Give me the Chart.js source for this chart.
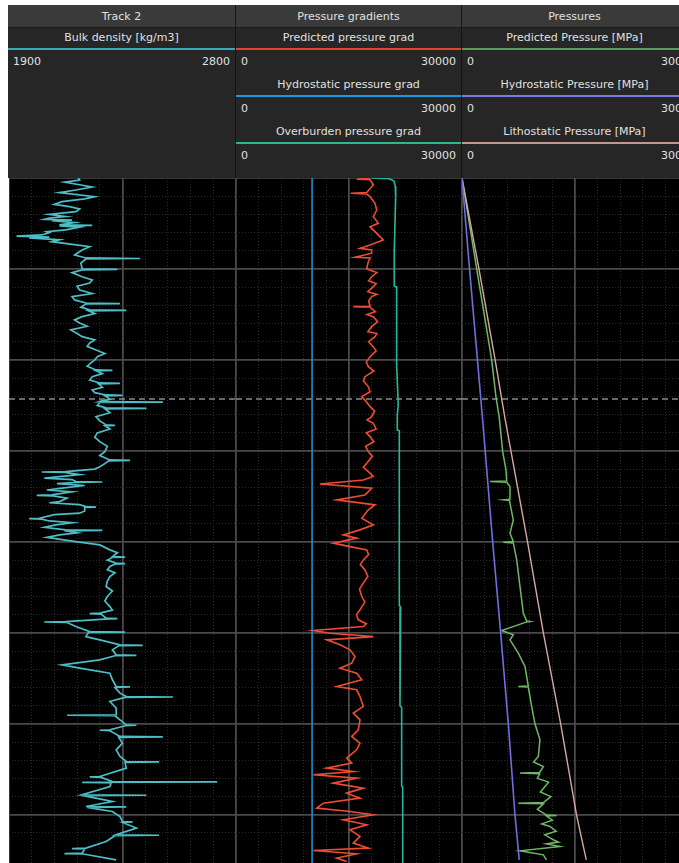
<!DOCTYPE html>
<html>
<head>
<meta charset="utf-8">
<script src="https://cdn.jsdelivr.net/npm/chart.js@4.4.0/dist/chart.umd.min.js"></script>
<style>
html, body { margin: 0; padding: 0; background: #fff; width: 679px; height: 863px; overflow: hidden; }
#wrap { position: relative; width: 679px; height: 863px; overflow: hidden; }
.hdr { position: absolute; top: 5px; height: 173px; background: #262626; font-family: "DejaVu Sans", sans-serif; font-size: 11px; color: #e0e0e0; box-sizing: border-box; border-right: 1px solid #151515; }
.ttl { height: 23px; line-height: 23px; background: #3a3a3a; text-align: center; border-bottom: 1px solid #1c1c1c; box-sizing: border-box; }
.lbl { height: 20px; line-height: 20px; text-align: center; }
.bar { height: 2px; }
.vals { height: 25px; line-height: 24px; position: relative; }
.vals .lo { position: absolute; left: 5px; }
.vals .hi { position: absolute; right: 5px; }
canvas { position: absolute; top: 178px; background: #000; }
</style>
</head>
<body>
<div id="wrap">
<canvas id="track1" width="227" height="685" style="left:9px;width:227px;height:685px"></canvas>
<canvas id="track2" width="226" height="685" style="left:236px;width:226px;height:685px"></canvas>
<canvas id="track3" width="226" height="685" style="left:462px;width:226px;height:685px"></canvas>
</div>
<script>
// header text
const trackTitles = ["Track 2", "Pressure gradients", "Pressures"];
const curveNames = [
	["Bulk density [kg/m3]"],
	["Predicted pressure grad", "Hydrostatic pressure grad", "Overburden pressure grad"],
	["Predicted Pressure [MPa]", "Hydrostatic Pressure [MPa]", "Lithostatic Pressure [MPa]"]
];
const trackRanges = [[1900, 2800], [0, 30000], [0, 300]];

const depthMax = 7530;
const cursorDepth = 2430;

// [depth m, kg/m3]
const bulkDensity = [
[0,2175],[22,2180],[45,2120],[77,2185],[100,2230],[132,2165],[160,2100],[205,2240],[230,2200],[260,2110],[290,2080],[315,2140],[340,2180],[370,2165],[400,2060],[425,2125],[440,2060],[455,2040],[462,2150],[470,2070],[490,2160],[516,2100],[520,2230],[526,2100],[540,2180],[571,2125],[590,2050],[600,2060],[626,2030],[640,1930],[650,2060],[659,1980],[680,2100],[700,2070],[755,2220],[791,2190],[846,2160],[879,2205],[885,2420],[890,2205],[934,2185],[1000,2190],[1005,2330],[1010,2190],[1040,2150],[1085,2190],[1120,2230],[1154,2220],[1190,2170],[1231,2180],[1270,2230],[1304,2150],[1340,2160],[1374,2205],[1380,2340],[1385,2205],[1420,2185],[1450,2220],[1455,2365],[1460,2215],[1490,2240],[1524,2190],[1560,2160],[1593,2180],[1630,2210],[1670,2145],[1710,2170],[1744,2190],[1780,2240],[1813,2220],[1850,2210],[1890,2245],[1930,2280],[1964,2250],[2000,2240],[2033,2225],[2070,2210],[2110,2245],[2115,2310],[2120,2245],[2150,2270],[2184,2230],[2220,2220],[2253,2260],[2258,2340],[2263,2255],[2300,2270],[2330,2230],[2360,2240],[2385,2285],[2390,2350],[2395,2280],[2430,2300],[2458,2260],[2463,2510],[2468,2260],[2500,2250],[2527,2285],[2532,2445],[2537,2280],[2580,2300],[2623,2245],[2670,2260],[2714,2285],[2719,2320],[2724,2280],[2760,2300],[2802,2250],[2850,2240],[2898,2260],[2950,2290],[3008,2280],[3050,2260],[3099,2300],[3104,2380],[3109,2295],[3140,2280],[3173,2260],[3200,2240],[3227,2125],[3232,2030],[3237,2120],[3260,2180],[3282,2100],[3300,2040],[3315,2150],[3337,2165],[3342,2270],[3347,2160],[3360,2090],[3380,2200],[3410,2110],[3430,2050],[3450,2150],[3484,2070],[3489,2010],[3494,2075],[3520,2130],[3557,2100],[3570,2060],[3590,2180],[3612,2205],[3617,2245],[3622,2200],[3660,2200],[3685,2180],[3700,2080],[3740,2020],[3745,1980],[3750,2030],[3770,2060],[3790,2150],[3813,2085],[3840,2040],[3868,2125],[3873,2270],[3878,2120],[3900,2170],[3923,2100],[3950,2050],[3997,2165],[4033,2260],[4088,2300],[4120,2330],[4162,2310],[4167,2360],[4172,2310],[4200,2290],[4234,2325],[4239,2360],[4244,2320],[4270,2300],[4308,2290],[4340,2320],[4381,2300],[4430,2290],[4491,2285],[4540,2310],[4601,2290],[4650,2280],[4711,2300],[4750,2310],[4784,2260],[4789,2220],[4794,2265],[4839,2285],[4844,2330],[4849,2280],[4876,2125],[4881,2040],[4886,2130],[4931,2165],[4986,2220],[4991,2360],[4996,2215],[5041,2205],[5077,2260],[5132,2340],[5137,2430],[5142,2335],[5187,2310],[5242,2325],[5247,2405],[5252,2320],[5297,2260],[5352,2110],[5388,2180],[5443,2300],[5516,2310],[5590,2325],[5595,2380],[5600,2320],[5663,2340],[5700,2365],[5705,2550],[5710,2360],[5755,2300],[5828,2325],[5901,2325],[5906,2130],[5911,2320],[5956,2340],[6011,2365],[6016,2405],[6021,2360],[6066,2300],[6071,2260],[6076,2300],[6139,2340],[6144,2510],[6149,2335],[6212,2350],[6286,2325],[6359,2340],[6414,2365],[6419,2495],[6424,2360],[6487,2365],[6579,2260],[6584,2220],[6589,2265],[6634,2310],[6639,2725],[6644,2190],[6649,2305],[6689,2300],[6780,2190],[6785,2445],[6790,2195],[6854,2310],[6909,2205],[6914,2365],[6919,2210],[6964,2310],[7019,2340],[7074,2350],[7079,2390],[7084,2350],[7146,2405],[7220,2325],[7225,2495],[7230,2320],[7293,2285],[7366,2205],[7371,2150],[7376,2200],[7421,2190],[7426,2120],[7431,2195],[7495,2325]
];

// [depth m, Pa/m]
const predictedGrad = [
[0,17800],[14,16020],[20,17800],[77,18230],[160,17350],[168,15230],[176,17350],[205,17790],[278,18450],[352,18680],[425,18230],[498,18890],[535,17790],[608,18680],[681,19550],[736,17790],[773,16460],[790,18000],[827,18010],[871,15800],[880,17800],[920,17560],[1000,17350],[1040,18700],[1085,18010],[1130,17600],[1160,18600],[1195,18230],[1250,17500],[1280,18700],[1304,18010],[1350,17600],[1410,17790],[1414,15570],[1420,17790],[1470,18500],[1500,17400],[1524,18230],[1580,18800],[1634,18010],[1690,17500],[1710,18700],[1744,18450],[1800,17600],[1854,18230],[1900,18600],[1964,17790],[2020,17300],[2074,17560],[2120,18300],[2184,17120],[2230,16900],[2293,17560],[2350,17800],[2403,16690],[2450,17200],[2513,17790],[2560,18400],[2623,18010],[2660,17400],[2696,18230],[2760,18600],[2800,17300],[2843,17790],[2900,18300],[2950,17200],[3008,17560],[3060,18100],[3135,17350],[3180,16900],[3245,17790],[3280,18200],[3319,16900],[3363,11150],[3410,18010],[3484,17120],[3538,13370],[3593,18450],[3648,17560],[3740,16690],[3813,18230],[3868,16460],[3923,14240],[3959,16020],[4014,12920],[4052,15130],[4088,17350],[4140,17600],[4198,16900],[4250,16500],[4308,17120],[4380,17500],[4454,16900],[4520,16400],[4601,16690],[4660,17100],[4747,16460],[4800,16000],[4857,16230],[4900,17300],[4931,16900],[4975,10260],[5004,12480],[5041,18230],[5077,12040],[5132,13800],[5187,15130],[5260,15800],[5333,15360],[5388,13800],[5443,16020],[5516,16690],[5590,13370],[5626,16020],[5700,16460],[5810,16900],[5883,15570],[5956,16460],[6066,16230],[6139,15360],[6212,16460],[6286,16020],[6377,14690],[6432,15360],[6487,12040],[6524,15570],[6560,10260],[6597,16020],[6652,12920],[6707,16900],[6762,14690],[6817,16460],[6872,11590],[6927,10710],[6964,15130],[7000,18230],[7055,14240],[7110,17350],[7165,15130],[7238,16460],[7311,15570],[7366,17560],[7392,10260],[7429,16020],[7476,13370],[7513,14690]
];
const hydrostaticGrad = [[0,10100],[7530,10100]];
const overburdenGrad = [
[0,18000],[8,20300],[30,20950],[90,21150],[200,21200],[800,21010],[1190,21010],[1200,21330],[2070,21330],[2500,21540],[2600,21410],[2770,21410],[2780,21680],[4700,21680],[4720,21860],[5000,21770],[5800,21770],[5820,21990],[6680,21990],[6700,22130],[7530,22130]
];

// [depth m, MPa]
const predictedPres = [
[0,0],[278,5.5],[1000,19.5],[2000,39.4],[2400,45],[2637,49.5],[3008,54],[3209,58.4],[3330,59.3],[3337,37.2],[3345,59.3],[3392,63.7],[3530,63.7],[3538,54.8],[3546,63],[3758,68.1],[3905,63.7],[3995,68],[4003,54.8],[4011,68.1],[4198,72.6],[4491,77],[4784,81.4],[4870,85.9],[4876,90.3],[4882,85],[4975,52.7],[5022,68.1],[5077,63.7],[5223,74.7],[5370,83.6],[5585,88],[5590,74.7],[5596,88],[5810,92.5],[6003,96.9],[6176,103.5],[6359,101.3],[6420,95],[6470,108],[6535,103],[6542,77],[6550,103],[6600,100],[6640,115],[6689,110.2],[6750,104],[6800,118],[6865,108],[6872,74.7],[6880,108],[6940,100],[7003,112.4],[7008,125.7],[7013,112],[7060,120],[7100,106],[7128,116.8],[7180,125],[7220,110],[7275,121.2],[7300,128],[7320,112],[7348,130],[7396,77],[7440,108],[7495,112]
];
const hydrostaticPres = [[0,0],[1000,10],[2000,20.5],[2660,27.4],[4000,40.7],[5000,51.3],[6000,61.5],[7000,70.3],[7495,76]];
const lithostaticPres = [[0,0],[1000,22.5],[2000,44],[2640,57],[4000,87],[5000,108],[6000,131],[7000,152],[7495,165]];

const curveColors = [
	["#3aa9b4"],
	["#e8432f", "#1b9ae0", "#2ab894"],
	["#5a9a5a", "#7b7be0", "#c09890"]
];

// header
const wrap = document.getElementById("wrap");
const hdrLeft = [8, 236, 462];
const hdrWidth = [228, 226, 226];
trackTitles.forEach((title, t) => {
	const h = document.createElement("div");
	h.className = "hdr";
	h.style.left = hdrLeft[t] + "px";
	h.style.width = hdrWidth[t] + "px";
	let html = `<div class="ttl">${title}</div>`;
	curveNames[t].forEach((name, c) => {
		html += `<div class="lbl">${name}</div>`;
		html += `<div class="bar" style="background:${curveColors[t][c]}"></div>`;
		html += `<div class="vals"><span class="lo">${trackRanges[t][0]}</span><span class="hi">${trackRanges[t][1]}</span></div>`;
	});
	h.innerHTML = html;
	wrap.appendChild(h);
});

const toXY = pairs => pairs.map(([d, v]) => ({ x: v, y: d }));

function curve(pairs, color, width) {
	return {
		data: toXY(pairs),
		borderColor: color,
		borderWidth: width || 1.3,
		pointRadius: 0,
		showLine: true,
		tension: 0
	};
}

function makeTrack(id, xMin, xMax, datasets) {
	const step = (xMax - xMin) / 10;
	const isMajorX = v => Math.round((v - xMin) / step) % 5 === 0;
	datasets.push({
		data: [{ x: xMin, y: cursorDepth }, { x: xMax, y: cursorDepth }],
		borderColor: "#8a8a8a",
		borderWidth: 1.5,
		borderDash: [6, 4],
		pointRadius: 0,
		showLine: true
	});
	new Chart(document.getElementById(id), {
		type: "scatter",
		data: { datasets: datasets },
		options: {
			responsive: false,
			animation: false,
			layout: { padding: 0 },
			plugins: { legend: { display: false }, tooltip: { enabled: false } },
			scales: {
				x: {
					type: "linear",
					min: xMin,
					max: xMax,
					ticks: { display: false, stepSize: step },
					grid: {
						drawTicks: false,
						color: ctx => isMajorX(ctx.tick.value) ? "#4a4a4a" : "#2c2c2c",
						lineWidth: ctx => isMajorX(ctx.tick.value) ? 1.8 : 1
					},
					border: {
						display: false,
						dash: ctx => (ctx.tick && !isMajorX(ctx.tick.value)) ? [1, 2] : []
					}
				},
				y: {
					type: "linear",
					reverse: true,
					min: 0,
					max: depthMax,
					ticks: { display: false, stepSize: 200 },
					grid: {
						drawTicks: false,
						color: ctx => ctx.tick.value % 1000 === 0 ? "#4a4a4a" : (ctx.tick.value % 200 === 0 ? "#2c2c2c" : "rgba(0,0,0,0)"),
						lineWidth: ctx => ctx.tick.value % 1000 === 0 ? 1.8 : 1
					},
					border: {
						display: false,
						dash: ctx => (ctx.tick && ctx.tick.value % 1000 !== 0) ? [1, 2] : []
					}
				}
			}
		}
	});
}

makeTrack("track1", 1900, 2800, [curve(bulkDensity, "#4ebdc6", 1.7)]);
makeTrack("track2", 0, 30000, [
	curve(hydrostaticGrad, "#1b8fd0", 1.6),
	curve(overburdenGrad, "#28b79c", 1.6),
	curve(predictedGrad, "#f04b35", 1.6)
]);
makeTrack("track3", 0, 300, [
	curve(hydrostaticPres, "#6e6ee0", 1.6),
	curve(lithostaticPres, "#d6a8a0", 1.4),
	curve(predictedPres, "#6fb765", 1.5)
]);
</script>
</body>
</html>
